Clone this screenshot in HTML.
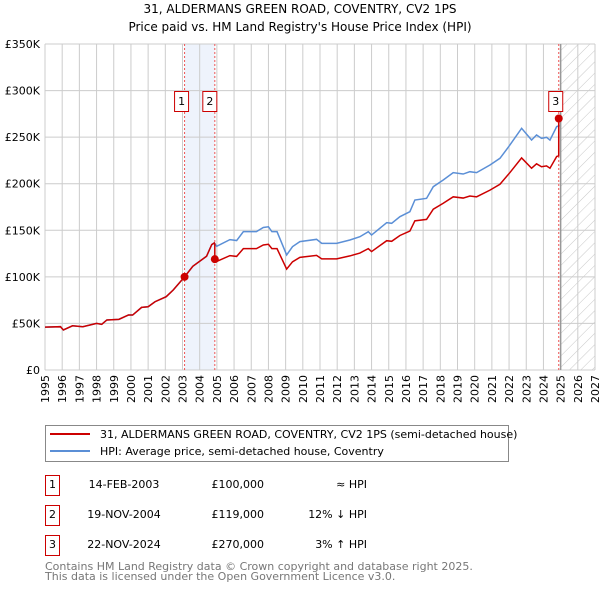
<!DOCTYPE html>
<html><head><meta charset="utf-8"><style>
body{margin:0;background:#fff;}
svg text{font-family:"DejaVu Sans","Liberation Sans",sans-serif;}
</style></head><body>
<svg id="chart" width="600" height="590" xmlns="http://www.w3.org/2000/svg">
<text x="300" y="13" text-anchor="middle" font-size="12">31, ALDERMANS GREEN ROAD, COVENTRY, CV2 1PS</text>
<text x="300" y="31" text-anchor="middle" font-size="12">Price paid vs. HM Land Registry's House Price Index (HPI)</text>
<defs><pattern id="hatch" patternUnits="userSpaceOnUse" width="8" height="8" patternTransform="rotate(45)"><line x1="0" y1="0" x2="0" y2="8" stroke="#c8c8c8" stroke-width="1"/></pattern></defs>
<g id="grid"></g><g id="marks"></g>
<g>
<rect x="45.5" y="425.5" width="463" height="36" fill="#fff" stroke="#888"/>
<line x1="50" y1="434" x2="90" y2="434" stroke="#cc0000" stroke-width="2"/>
<text x="100" y="438" font-size="11">31, ALDERMANS GREEN ROAD, COVENTRY, CV2 1PS (semi-detached house)</text>
<line x1="50" y1="451" x2="90" y2="451" stroke="#5b8fd6" stroke-width="2"/>
<text x="100" y="455" font-size="11">HPI: Average price, semi-detached house, Coventry</text>
</g>
<g font-size="11">
<rect x="45.5" y="475.5" width="14" height="20" fill="#fff" stroke="#cc0000"/><text x="52.5" y="488" text-anchor="middle">1</text>
<text x="124" y="488" text-anchor="middle">14-FEB-2003</text><text x="264" y="488" text-anchor="end">£100,000</text><text x="367" y="488" text-anchor="end">≈ HPI</text>
<rect x="45.5" y="505.5" width="14" height="20" fill="#fff" stroke="#cc0000"/><text x="52.5" y="518" text-anchor="middle">2</text>
<text x="124" y="518" text-anchor="middle">19-NOV-2004</text><text x="264" y="518" text-anchor="end">£119,000</text><text x="367" y="518" text-anchor="end">12% ↓ HPI</text>
<rect x="45.5" y="535.5" width="14" height="20" fill="#fff" stroke="#cc0000"/><text x="52.5" y="548" text-anchor="middle">3</text>
<text x="124" y="548" text-anchor="middle">22-NOV-2024</text><text x="264" y="548" text-anchor="end">£270,000</text><text x="367" y="548" text-anchor="end">3% ↑ HPI</text>
</g>
<text x="45" y="570" font-size="11" fill="#777">Contains HM Land Registry data © Crown copyright and database right 2025.</text>
<text x="45" y="580" font-size="11" fill="#777">This data is licensed under the Open Government Licence v3.0.</text>
</svg>
<script>
const hpiYears=[1995.0,1995.9,1996.07,1996.6,1997.2,1998.0,1998.3,1998.6,1999.3,1999.85,2000.1,2000.62,2001.0,2001.4,2002.05,2002.46,2003.12,2003.6,2004.4,2004.7,2004.85,2004.99,2005.76,2006.15,2006.54,2007.3,2007.7,2008.0,2008.2,2008.5,2009.06,2009.4,2009.83,2010.8,2011.1,2011.97,2012.74,2013.32,2013.81,2014.0,2014.88,2015.17,2015.65,2016.23,2016.52,2017.2,2017.59,2018.17,2018.75,2019.33,2019.72,2020.11,2020.89,2021.47,2022.05,2022.73,2023.31,2023.6,2023.89,2024.18,2024.38,2024.77,2024.95];
const hpiValues=[46,46.5,43,47.5,46.5,50,49,53.7,54.4,59,59,67.2,67.9,73.3,78.7,85.9,100,111.4,122.1,134.6,136.4,132.8,140,139,148.5,148.5,153,153.8,148.5,148.5,123.5,132.4,137.8,140.3,136,136,139.6,143.1,148.5,144.9,158.2,157.5,164.6,170,182.5,184.3,196.8,204,211.9,210.4,212.9,211.9,220.1,227.3,241.6,259.5,246.9,252.3,248.7,249.8,246.9,261.3,262.5];
const saleYears=[2003.12,2004.88,2024.89];
const salePrices=[100,119,270];
const saleLabels=["1","2","3"];
const yTicks=[0,50,100,150,200,250,300,350];
const yTickLabels=["£0","£50K","£100K","£150K","£200K","£250K","£300K","£350K"];
const xTicks=[1995,1996,1997,1998,1999,2000,2001,2002,2003,2004,2005,2006,2007,2008,2009,2010,2011,2012,2013,2014,2015,2016,2017,2018,2019,2020,2021,2022,2023,2024,2025,2026,2027];
const X0=45,X1=595,Y0=370,Y1=44,xmin=1995,xmax=2027,ymax=350,dataEnd=2025;
const sx=y=>X0+(y-xmin)/(xmax-xmin)*(X1-X0);
const sy=v=>Y0-v/ymax*(Y0-Y1);
const NS="http://www.w3.org/2000/svg";
function mk(tag,attrs,parent){const e=document.createElementNS(NS,tag);for(const k in attrs)e.setAttribute(k,attrs[k]);parent.appendChild(e);return e;}
const grid=document.getElementById('grid'),marks=document.getElementById('marks');
function hpiAt(t){for(let i=1;i<hpiYears.length;i++){if(t<=hpiYears[i]){const a=hpiYears[i-1],b=hpiYears[i];return hpiValues[i-1]+(hpiValues[i]-hpiValues[i-1])*(t-a)/(b-a);}}return hpiValues[hpiValues.length-1];}
const sh=mk('rect',{x:sx(saleYears[0]),y:Y1,width:sx(saleYears[1])-sx(saleYears[0]),height:Y0-Y1,fill:'#eef3fc'},grid);


const ht=mk('rect',{x:sx(dataEnd),y:Y1,width:X1-sx(dataEnd),height:Y0-Y1,fill:'url(#hatch)'},grid);


xTicks.forEach(t=>{
 const l=mk('line',{x1:sx(t),x2:sx(t),y1:Y1,y2:Y0,stroke:'#cccccc','stroke-width':1},grid);
 
 
 const tx=mk('text',{x:0,y:0,'text-anchor':'end','font-size':11,transform:'translate('+(sx(t)+4)+',375) rotate(-90)'},grid);tx.textContent=t;
 
 
});
yTicks.forEach((v,i)=>{
 const l=mk('line',{x1:X0,x2:X1,y1:sy(v),y2:sy(v),stroke:'#cccccc','stroke-width':1},grid);
 
 
 const tx=mk('text',{x:40,y:sy(v)+4,'text-anchor':'end','font-size':11},grid);tx.textContent=yTickLabels[i];
 
 
});
const dl=mk('line',{x1:sx(dataEnd),x2:sx(dataEnd),y1:Y1,y2:Y0,stroke:'#999','stroke-width':1.5},grid);


saleYears.forEach(t=>{
 const l=mk('line',{x1:sx(t),x2:sx(t),y1:Y1,y2:Y0,stroke:'#ee5555','stroke-width':1,'stroke-dasharray':'2,2'},grid);
 
 
});
const hp=mk('polyline',{points:hpiYears.map((t,i)=>sx(t)+','+sy(hpiValues[i])).join(' '),fill:'none',stroke:'#5b8fd6','stroke-width':1.5},marks);


const pts=[];
hpiYears.forEach((t,i)=>{
 if(t<saleYears[0]){pts.push([t,hpiValues[i]]);return;}
 let k=0;for(let j=0;j<saleYears.length;j++)if(t>=saleYears[j])k=j;
 const f=salePrices[k]/hpiAt(saleYears[k]);
 pts.push([t,hpiValues[i]*f]);
});
saleYears.forEach((s,k)=>{
 const prevF=k===0?1:salePrices[k-1]/hpiAt(saleYears[k-1]);
 pts.push([s-0.001,hpiAt(s)*prevF]);
 pts.push([s,salePrices[k]]);
});
pts.sort((a,b)=>a[0]-b[0]);
const pp=mk('polyline',{points:pts.map(p=>sx(p[0])+','+sy(p[1])).join(' '),fill:'none',stroke:'#cc0000','stroke-width':1.5},marks);


saleYears.forEach((t,i)=>{
 const c=mk('circle',{cx:sx(t),cy:sy(salePrices[i]),r:4,fill:'#cc0000'},marks);
 
 
 const r=mk('rect',{x:(i===1?sx(t)-12:sx(t)-10),y:91.5,width:14,height:20,fill:'#fff',stroke:'#cc0000'},marks);
 
 
 const tx=mk('text',{x:(i===1?sx(t)-5:sx(t)-3),y:105,'text-anchor':'middle','font-size':11},marks);tx.textContent=saleLabels[i];
 
 
});
</script>
</body></html>
